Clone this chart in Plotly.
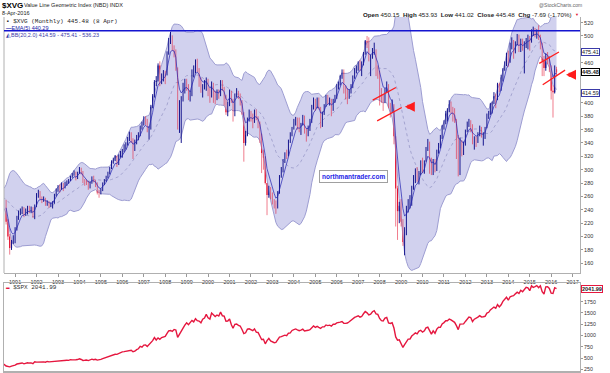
import numpy as np
import pandas as pd
import plotly.graph_objects as go

# ---------------- DATA ----------------
# $XVG monthly closes, Nov 1988 .. Apr 2016
xvg_close = [
    246, 249,                                                   # 1988 (Nov-Dec)
    250, 254, 252, 258, 262, 265, 270, 272, 273, 262, 258, 256,  # 1989
    246, 249, 252, 249, 257, 256, 252, 222, 200, 183, 192, 198,  # 1990
    212, 228, 236, 237, 242, 233, 240, 243, 238, 241, 231, 246,  # 1991
    262, 267, 258, 255, 257, 249, 252, 246, 248, 251, 262, 270,  # 1992
    274, 272, 279, 274, 280, 282, 284, 290, 293, 296, 288, 295,  # 1993
    302, 297, 284, 283, 281, 273, 280, 288, 283, 279, 266, 265,  # 1994
    270, 279, 284, 289, 295, 302, 312, 315, 320, 309, 321, 325,  # 1995
    328, 334, 338, 346, 353, 345, 330, 342, 350, 352, 364, 368,  # 1996
    376, 372, 359, 362, 394, 410, 431, 433, 456, 437, 440, 446,  # 1997
    443, 474, 494, 499, 482, 476, 450, 376, 386, 404, 424, 430,  # 1998
    425, 410, 413, 446, 449, 462, 451, 436, 420, 424, 430, 433,  # 1999
    418, 413, 426, 414, 407, 416, 412, 431, 420, 409, 386, 398,  # 2000
    415, 403, 388, 411, 416, 413, 401, 384, 340, 352, 375, 386,  # 2001
    381, 372, 386, 378, 370, 352, 325, 318, 280, 262, 270, 260,  # 2002
    255, 248, 244, 266, 290, 298, 312, 324, 320, 342, 352, 362,  # 2003
    370, 374, 372, 360, 368, 380, 360, 352, 362, 372, 395, 405,  # 2004
    396, 404, 392, 368, 385, 395, 410, 402, 405, 390, 404, 406,  # 2005
    425, 428, 440, 445, 425, 420, 410, 418, 425, 438, 448, 452,  # 2006
    458, 452, 458, 474, 492, 490, 466, 470, 478, 480, 450, 445,  # 2007
    418, 408, 405, 418, 425, 395, 392, 395, 350, 272, 238, 246,  # 2008
    222, 192, 208, 240, 248, 252, 275, 288, 298, 284, 294, 312,  # 2009
    300, 312, 332, 338, 312, 296, 314, 300, 326, 336, 348, 365,  # 2010
    370, 384, 390, 398, 392, 386, 375, 345, 305, 340, 334, 336,  # 2011
    358, 370, 372, 365, 342, 348, 345, 354, 360, 352, 352, 362,  # 2012
    382, 385, 398, 400, 410, 405, 428, 418, 438, 450, 460, 474,  # 2013
    466, 488, 492, 484, 490, 500, 480, 494, 480, 490, 494, 498,  # 2014
    494, 508, 510, 502, 506, 498, 488, 463, 452, 470, 468, 455,  # 2015
    418, 416, 453.17, 445.48,                                    # 2016
]
xvg_start = "1988-11-01"
candle_start = "1990-08-01"

# monthly highs, Aug 1990 .. Apr 2016
xvg_high = [
    255, 226, 204, 195, 202,
    214, 231, 239, 242, 245, 244, 242, 246, 246, 245, 244, 248,
    265, 270, 268, 260, 260, 258, 254, 253, 251, 253, 264, 272,
    277, 278, 281, 280, 282, 284, 286, 291, 295, 299, 297, 297,
    304, 303, 298, 286, 285, 283, 282, 290, 291, 285, 281, 270,
    272, 281, 286, 291, 297, 304, 314, 318, 322, 321, 323, 328,
    331, 338, 341, 349, 357, 356, 347, 345, 352, 356, 366, 372,
    380, 380, 376, 365, 397, 413, 434, 440, 459, 462, 444, 449,
    448, 477, 497, 506, 501, 486, 480, 453, 404, 410, 430, 436,
    436, 428, 418, 450, 456, 465, 466, 452, 438, 428, 434, 438,
    436, 422, 432, 430, 418, 420, 420, 434, 434, 424, 412, 402,
    420, 418, 406, 414, 422, 418, 414, 404, 386, 358, 378, 390,
    388, 384, 390, 390, 380, 372, 354, 330, 320, 276, 276, 274,
    266, 256, 254, 268, 292, 304, 316, 326, 330, 345, 356, 364,
    376, 379, 378, 378, 370, 382, 381, 362, 366, 376, 397, 408,
    406, 408, 408, 394, 387, 398, 412, 412, 408, 406, 406, 412,
    428, 432, 442, 450, 450, 426, 422, 420, 428, 441, 452, 456,
    462, 464, 462, 476, 494, 500, 498, 472, 482, 490, 480, 456,
    448, 422, 412, 422, 432, 428, 400, 405, 398, 350, 276, 252,
    256, 226, 214, 246, 256, 262, 276, 292, 302, 304, 298, 314,
    318, 314, 334, 346, 342, 318, 316, 316, 330, 340, 352, 367,
    374, 388, 392, 404, 402, 394, 392, 376, 352, 348, 344, 342,
    360, 372, 376, 374, 368, 350, 350, 356, 366, 364, 356, 364,
    384, 388, 400, 402, 416, 414, 430, 430, 442, 452, 462, 475,
    478, 490, 498, 494, 492, 503, 502, 496, 496, 492, 497, 502,
    500, 510, 514, 512, 510, 516, 502, 490, 470, 474, 476, 470,
    456, 426, 456, 453.93,
]
# monthly lows, Aug 1990 .. Apr 2016
xvg_low = [
    218, 195, 173, 180, 189,
    190, 209, 225, 232, 234, 229, 231, 233, 235, 235, 228, 226,
    244, 258, 255, 250, 252, 246, 246, 243, 244, 242, 249, 260,
    267, 266, 270, 268, 272, 276, 279, 283, 288, 291, 284, 286,
    294, 293, 280, 276, 277, 270, 272, 279, 281, 274, 263, 258,
    263, 268, 277, 282, 287, 293, 301, 309, 313, 304, 307, 318,
    318, 326, 330, 336, 343, 340, 316, 328, 338, 344, 350, 360,
    366, 367, 356, 345, 360, 392, 408, 425, 432, 425, 428, 432,
    428, 441, 472, 488, 478, 468, 448, 360, 355, 340, 402, 414,
    418, 404, 402, 410, 438, 444, 446, 424, 415, 408, 420, 418,
    410, 400, 408, 400, 398, 404, 406, 410, 418, 396, 382, 380,
    395, 400, 372, 380, 408, 406, 396, 382, 312, 336, 350, 372,
    372, 362, 370, 374, 362, 340, 295, 300, 278, 232, 258, 256,
    248, 242, 234, 242, 264, 288, 296, 310, 316, 320, 340, 350,
    360, 366, 360, 356, 352, 366, 354, 342, 350, 358, 370, 390,
    388, 392, 390, 362, 364, 382, 394, 398, 396, 380, 388, 400,
    406, 420, 426, 436, 414, 405, 398, 406, 414, 422, 436, 444,
    448, 448, 440, 456, 472, 482, 462, 440, 466, 472, 440, 436,
    396, 400, 388, 400, 416, 392, 378, 385, 338, 215, 195, 220,
    215, 186, 172, 202, 236, 242, 246, 270, 280, 282, 278, 292,
    295, 294, 312, 328, 294, 292, 292, 296, 298, 324, 332, 346,
    360, 368, 372, 386, 384, 372, 370, 316, 290, 292, 320, 322,
    336, 356, 364, 356, 338, 330, 334, 340, 350, 348, 336, 346,
    362, 376, 382, 384, 398, 392, 404, 416, 418, 432, 448, 455,
    454, 460, 480, 466, 474, 486, 476, 476, 478, 444, 482, 480,
    478, 490, 500, 498, 496, 494, 480, 440, 440, 448, 458, 446,
    405, 378, 414, 441.02,
]
xvg_last_open = 450.15
resistance_level = 508

# $SPX monthly closes, Jun 1990 .. Apr 2016
spx_start = "1990-06-01"
spx_close = [
    358, 356, 323, 306, 304, 322, 330,
    344, 367, 375, 375, 390, 371, 388, 395, 388, 392, 375, 417,
    409, 413, 404, 415, 415, 408, 424, 414, 418, 419, 431, 436,
    439, 443, 452, 440, 450, 451, 448, 464, 459, 468, 462, 466,
    482, 467, 446, 451, 457, 444, 458, 475, 463, 472, 454, 459,
    470, 487, 501, 515, 533, 545, 562, 562, 584, 582, 605, 616,
    636, 641, 646, 654, 669, 671, 640, 652, 687, 705, 757, 741,
    786, 791, 757, 801, 848, 885, 954, 899, 947, 915, 955, 970,
    980, 1049, 1102, 1112, 1091, 1134, 1121, 957, 1017, 1099, 1164, 1229,
    1280, 1238, 1286, 1335, 1302, 1373, 1329, 1320, 1283, 1363, 1389, 1469,
    1394, 1366, 1499, 1452, 1421, 1455, 1431, 1518, 1437, 1429, 1315, 1320,
    1366, 1240, 1160, 1249, 1256, 1224, 1211, 1134, 1041, 1060, 1139, 1148,
    1130, 1107, 1147, 1076, 1067, 990, 912, 916, 815, 886, 936, 880,
    856, 841, 848, 917, 964, 975, 990, 1008, 996, 1051, 1058, 1112,
    1131, 1145, 1126, 1107, 1121, 1141, 1102, 1104, 1115, 1130, 1174, 1212,
    1181, 1204, 1181, 1157, 1192, 1191, 1234, 1220, 1229, 1207, 1249, 1248,
    1280, 1281, 1295, 1311, 1270, 1270, 1277, 1304, 1336, 1378, 1401, 1418,
    1438, 1407, 1421, 1482, 1531, 1503, 1455, 1474, 1527, 1549, 1481, 1468,
    1379, 1331, 1323, 1386, 1400, 1280, 1267, 1283, 1166, 969, 896, 903,
    826, 735, 798, 873, 919, 919, 987, 1021, 1057, 1036, 1096, 1115,
    1074, 1104, 1169, 1187, 1089, 1031, 1102, 1049, 1141, 1183, 1181, 1258,
    1286, 1327, 1326, 1364, 1345, 1321, 1292, 1219, 1131, 1253, 1247, 1258,
    1312, 1366, 1408, 1398, 1310, 1362, 1379, 1407, 1441, 1412, 1416, 1426,
    1498, 1515, 1569, 1598, 1631, 1606, 1686, 1633, 1682, 1757, 1806, 1848,
    1783, 1859, 1872, 1884, 1924, 1960, 1931, 2003, 1972, 2018, 2068, 2059,
    1995, 2105, 2068, 2086, 2107, 2063, 2104, 1972, 1920, 2079, 2080, 2044,
    1940, 1932, 2060, 2041.99,
]

year_ticks = list(range(1991, 2018))
main_ticks = [160, 180, 200, 220, 240, 260, 280, 300, 320, 340, 360, 380, 400, 460, 500, 520]
spx_ticks = [250, 500, 750, 1000, 1250, 1500, 1750]

# ---------------- PREP ----------------
dates = pd.date_range(xvg_start, periods=len(xvg_close), freq="MS")
s = pd.Series(xvg_close, index=dates, dtype=float)
mid = s.rolling(20).mean()
sd = s.rolling(20).std(ddof=0)
upper = mid + 2 * sd
lower = mid - 2 * sd
ema5 = s.ewm(span=5, adjust=False).mean()

ci = list(dates).index(pd.Timestamp(candle_start))
cd = dates[ci:]
c_close = np.array(xvg_close[ci:], dtype=float)
c_open = np.array(xvg_close[ci - 1:-1], dtype=float)
c_open[-1] = xvg_last_open
c_high = np.maximum.reduce([np.array(xvg_high, float), c_open, c_close])
c_low = np.minimum.reduce([np.array(xvg_low, float), c_open, c_close])

band_mask = dates >= pd.Timestamp("1990-06-01")
bd = dates[band_mask]

spx_dates = pd.date_range(spx_start, periods=len(spx_close), freq="MS")

# ---------------- LAYOUT HELPERS ----------------
W, H = 610, 373
ML, MR, MT, MB = 4, 30, 17, 2
PW, PH = W - ML - MR, H - MT - MB


def px(x):
    return (x - ML) / PW


def py(y):
    return (H - MB - y) / PH


SANS = "Liberation Sans, Arial, sans-serif"
MONO = "Liberation Mono, DejaVu Sans Mono, monospace"
UP = "#16168e"
DN = "#e3122f"
DN_WICK = "rgba(227,18,47,0.55)"
BAND_FILL = "#d1d1ee"
BAND_LINE = "#9d9dd2"
SPX_RED = "#e5173f"

fig = go.Figure()

# Bollinger bands
fig.add_trace(go.Scatter(x=bd, y=upper[band_mask], mode="lines",
                         line=dict(color=BAND_LINE, width=1), hoverinfo="skip",
                         xaxis="x", yaxis="y"))
fig.add_trace(go.Scatter(x=bd, y=lower[band_mask], mode="lines", fill="tonexty",
                         fillcolor=BAND_FILL, line=dict(color=BAND_LINE, width=1),
                         hoverinfo="skip", xaxis="x", yaxis="y"))
fig.add_trace(go.Scatter(x=bd, y=mid[band_mask], mode="lines",
                         line=dict(color="#9898c8", width=0.8, dash="dot"),
                         hoverinfo="skip", xaxis="x", yaxis="y"))

# candles (wicks + bodies)
up = c_close >= c_open
body_lo = np.minimum(c_open, c_close)
body_h = np.maximum(np.abs(c_close - c_open), 0.8)
DAY_MS = 86400000
for mask, col, wcol in [(up, UP, UP), (~up, DN, DN_WICK)]:
    xs, ys = [], []
    for d, lo, hi in zip(cd[mask], c_low[mask], c_high[mask]):
        xs += [d, d, None]
        ys += [lo, hi, None]
    fig.add_trace(go.Scatter(x=xs, y=ys, mode="lines", line=dict(color=wcol, width=1),
                             hoverinfo="skip", xaxis="x", yaxis="y"))
    fig.add_trace(go.Bar(x=cd[mask], y=body_h[mask], base=body_lo[mask],
                         width=20 * DAY_MS, marker=dict(color=col, line=dict(width=0)),
                         hoverinfo="skip", xaxis="x", yaxis="y"))

# EMA(5)
fig.add_trace(go.Scatter(x=cd, y=ema5[ci:], mode="lines",
                         line=dict(color="#2020b0", width=0.7), hoverinfo="skip",
                         xaxis="x", yaxis="y"))

# SPX
fig.add_trace(go.Scatter(x=spx_dates, y=spx_close, mode="lines",
                         line=dict(color=SPX_RED, width=1.4), hoverinfo="skip",
                         xaxis="x2", yaxis="y2"))

xr = ["1990-06-26", "2017-05-06"]
tickvals = [f"{y}-01-01" for y in year_ticks]
ticktext = [str(y) for y in year_ticks]

fig.update_layout(
    width=W, height=H, margin=dict(l=ML, r=MR, t=MT, b=MB),
    paper_bgcolor="white", plot_bgcolor="white", showlegend=False, barmode="overlay",
    xaxis=dict(domain=[0, 1], anchor="y", type="date", range=xr,
               tickvals=tickvals, ticktext=ticktext, showgrid=False, zeroline=False,
               ticks="outside", ticklen=3, tickcolor="#999",
               tickfont=dict(size=5.5, color="#333", family=SANS),
               showline=True, linecolor="#b0b0b0", linewidth=1),
    yaxis=dict(domain=[py(273), 1], anchor="x", side="right", range=[145.5, 528.4],
               tickvals=main_ticks, showgrid=False, zeroline=False,
               ticks="outside", ticklen=2, tickcolor="#999",
               tickfont=dict(size=5.5, color="#333", family=SANS),
               showline=True, linecolor="#b0b0b0", linewidth=1),
    xaxis2=dict(domain=[0, 1], anchor="y2", type="date", range=xr,
                showticklabels=False, showgrid=False, zeroline=False,
                showline=True, linecolor="#b0b0b0", linewidth=1.5, mirror=True),
    yaxis2=dict(domain=[0, py(283)], anchor="x2", side="right", range=[212, 2165],
                tickvals=spx_ticks, showgrid=False, zeroline=False,
                ticks="outside", ticklen=2, tickcolor="#999",
                tickfont=dict(size=5.3, color="#333", family=SANS),
                showline=True, linecolor="#b0b0b0", linewidth=1, mirror=True),
)

shapes = [
    dict(type="line", xref="paper", yref="paper", x0=0, x1=0, y0=py(273), y1=1,
         line=dict(color="#b0b0b0", width=1)),
    dict(type="line", xref="paper", yref="y", x0=0, x1=1, y0=resistance_level,
         y1=resistance_level, line=dict(color="#1515d0", width=1.5)),
    dict(type="line", xref="x", yref="y", x0="2007-09-05", y0=404, x1="2008-10-05", y1=423,
         line=dict(color="#ff1c1c", width=1.3)),
    dict(type="line", xref="x", yref="y", x0="2007-11-20", y0=373, x1="2009-01-12", y1=393,
         line=dict(color="#ff1c1c", width=1.3)),
    dict(type="line", xref="x", yref="y", x0="2015-06-12", y0=459, x1="2016-05-12", y1=476,
         line=dict(color="#ff1c1c", width=1.3)),
    dict(type="line", xref="x", yref="y", x0="2015-08-10", y0=427, x1="2016-08-25", y1=449,
         line=dict(color="#ff1c1c", width=1.3)),
]
fig.update_layout(shapes=shapes)

ann = []


def txt(x, y, text, size, color="#111", family=SANS, xanchor="left", **kw):
    d = dict(x=px(x), y=py(y), xref="paper", yref="paper", text=text, showarrow=False,
             xanchor=xanchor, yanchor="middle",
             font=dict(size=size, color=color, family=family))
    d.update(kw)
    ann.append(d)


txt(0, 5, "<b>$XVG</b>", 8, "#000")
txt(22, 5.5, "Value Line Geometric Index (NBD) INDX", 5.5, "#222")
txt(0, 13, "8-Apr-2016", 5.5, "#222")
txt(584, 4.5, "@StockCharts.com", 5, "#666", xanchor="right")
txt(574, 14, "<b>Open</b> 450.15  <b>High</b> 453.93  <b>Low</b> 441.02  "
             "<b>Close</b> 445.48  <b>Chg</b> -7.69 (-1.70%)", 6.2, "#222", xanchor="right")
txt(573, 14.5, "▼", 4, "#e3122f")
txt(4, 21, "<b>▪</b> $XVG (Monthly) 445.48 (8 Apr)", 6, "#222", family=MONO)
txt(4, 27.5, "<b>—</b>EMA(5) 440.29", 5.5, "#1a1aa6")
txt(4, 34.5, "◭BB(20,2.0) 414.59 - 475.41 - 536.23", 5.5, "#3a3aa8")
txt(4, 287, "<b style='color:#e5173f'>▬</b> $SPX 2041.99", 6, "#333", family=MONO)

for val, txtv, bc, bold in [(475.41, "475.41", "#3a3aa8", False),
                            (445.48, "445.48", "#000000", True),
                            (414.59, "414.59", "#3a3aa8", False)]:
    ann.append(dict(x=1, y=val, xref="paper", yref="y", xanchor="left", yanchor="middle",
                    xshift=1, text=(f"<b>{txtv}</b>" if bold else txtv), showarrow=False,
                    font=dict(size=5.5, color="#222", family=SANS), bgcolor="white",
                    bordercolor=bc, borderwidth=1, borderpad=0))
ann.append(dict(x=1, y=spx_close[-1], xref="paper", yref="y2", xanchor="left",
                yanchor="middle", xshift=1, text="<b>2041.99</b>", showarrow=False,
                font=dict(size=5.5, color="#222", family=SANS), bgcolor="white",
                bordercolor=SPX_RED, borderwidth=1, borderpad=0))

ann.append(dict(x="2006-10-20", y=289.5, xref="x", yref="y", text="<b>northmantrader.com</b>",
                showarrow=False, font=dict(size=6.5, color="#2424e6", family=SANS),
                bgcolor="white", bordercolor="#a0a0a0", borderwidth=1, borderpad=2))

for head, tail, yv in [("2009-03-05", "2009-08-10", 394), ("2016-09-10", "2017-02-12", 442)]:
    ann.append(dict(x=head, y=yv, ax=tail, ay=yv, xref="x", yref="y", axref="x", ayref="y",
                    text="", showarrow=True, arrowhead=2, arrowsize=0.5, arrowwidth=4,
                    arrowcolor="#ff1c1c"))

fig.update_layout(annotations=ann)

fig.write_html("out.html", config={"displayModeBar": False, "staticPlot": True},
               post_script="document.body.style.margin='0';document.body.style.padding='0';")
